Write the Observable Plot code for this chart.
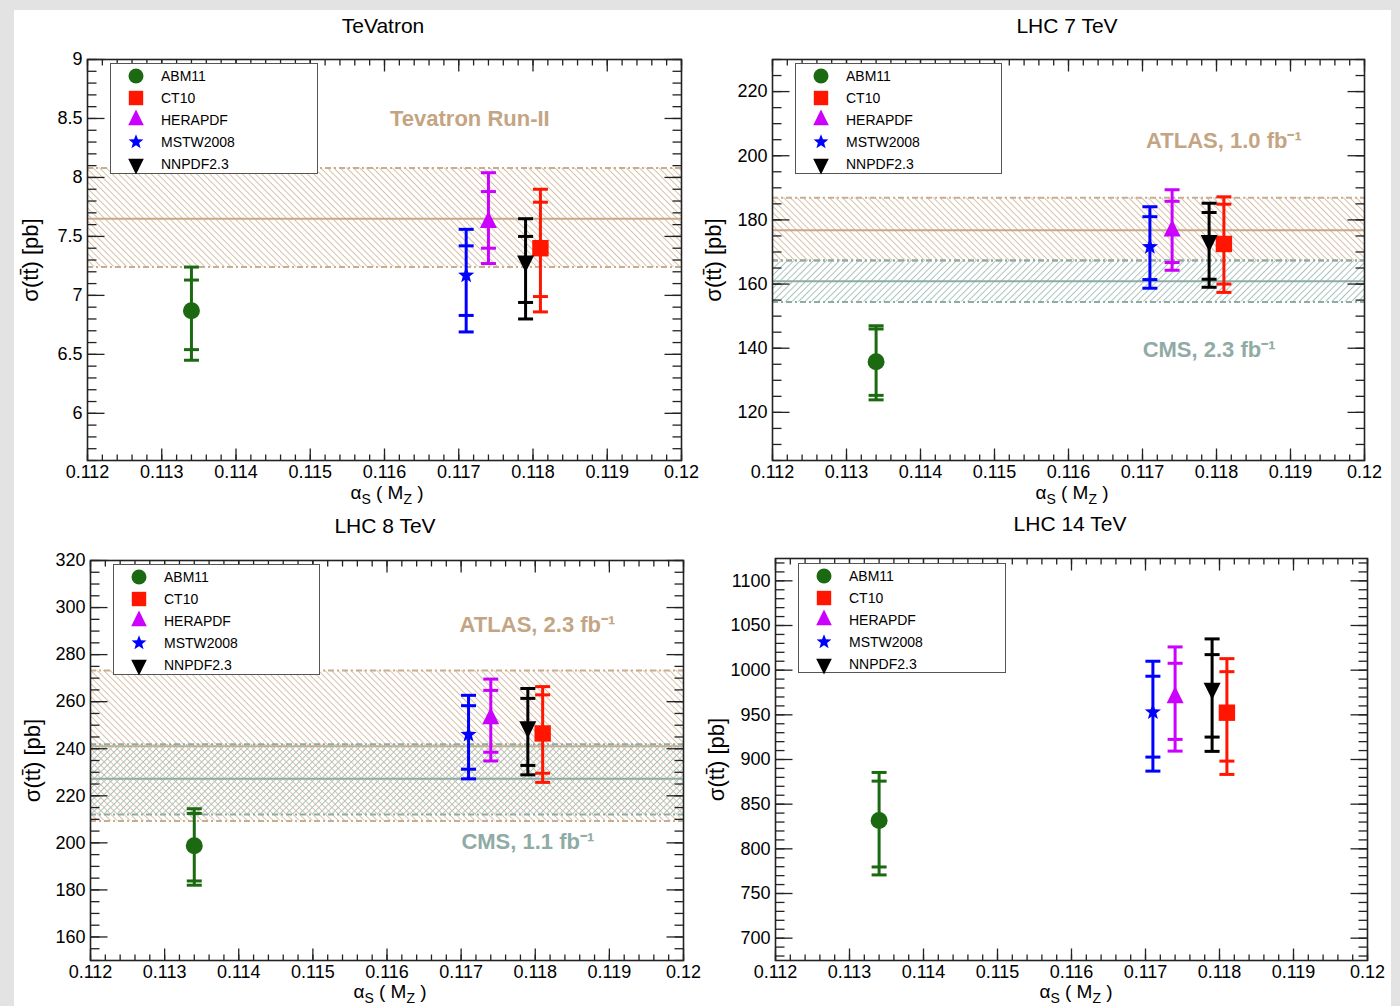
<!DOCTYPE html>
<html>
<head>
<meta charset="utf-8">
<script src="https://cdn.jsdelivr.net/npm/d3@7"></script>
<script src="https://cdn.jsdelivr.net/npm/@observablehq/plot@0.6"></script>
<style>
  html, body { margin: 0; padding: 0; background: #e3e3e3; }
  #page { position: relative; width: 1400px; height: 1006px; overflow: hidden;
          font-family: "Liberation Sans", Arial, Helvetica, sans-serif; color: #000; }
  #sheet { position: absolute; left: 14px; top: 10px; width: 1377px; height: 996px; background: #fff; }
  .slot { position: absolute; }
  .slot svg { display: block; }
  .title { position: absolute; font-size: 21px; white-space: nowrap; transform: translate(-50%, -50%); }
  .xlabel { position: absolute; font-size: 19px; white-space: nowrap; transform: translate(-50%, -50%); }
  .xlabel sub { font-size: 14px; vertical-align: -5px; }
  .legend { position: absolute; box-sizing: border-box; border: 1.5px solid #555; background: #fff; }
  .legend svg { position: absolute; overflow: visible; }
  .legend span { position: absolute; font-size: 14px; white-space: nowrap; transform: translateY(-50%); }
</style>
</head>
<body>
<div id="page"><div id="sheet"></div></div>
<script>
// ---- PDF sets (legend order) ----
const pdfNames  = ["ABM11", "CT10", "HERAPDF", "MSTW2008", "NNPDF2.3"];
const pdfColors = ["#1b6a12", "#ff1500", "#cc00ff", "#0000ff", "#000000"];
const pdfAlphaS = [0.1134, 0.1181, 0.1174, 0.1171, 0.1179];

// ---- axis tick values ----
const xTicks    = [0.112, 0.113, 0.114, 0.115, 0.116, 0.117, 0.118, 0.119, 0.12];
const tevYTicks   = [6, 6.5, 7, 7.5, 8, 8.5, 9];
const lhc7YTicks  = [120, 140, 160, 180, 200, 220];
const lhc8YTicks  = [160, 180, 200, 220, 240, 260, 280, 300, 320];
const lhc14YTicks = [700, 750, 800, 850, 900, 950, 1000, 1050, 1100];

// ---- Tevatron predictions (pb): central, inner band, outer band ----
const tevCentral = [6.87, 7.40, 7.62, 7.17, 7.29];
const tevInnerLo = [6.54, 6.99, 7.40, 6.83, 6.94];
const tevInnerHi = [7.13, 7.79, 7.88, 7.42, 7.50];
const tevOuterLo = [6.45, 6.86, 7.27, 6.69, 6.80];
const tevOuterHi = [7.24, 7.90, 8.04, 7.56, 7.65];

// ---- LHC 7 TeV ----
const lhc7Central = [135.8, 172.5, 176.6, 171.6, 173.5];
const lhc7InnerLo = [125.3, 160.0, 166.7, 161.4, 161.5];
const lhc7InnerHi = [146.0, 184.9, 185.8, 181.0, 182.3];
const lhc7OuterLo = [123.9, 157.4, 164.3, 158.7, 159.0];
const lhc7OuterHi = [147.0, 187.2, 189.4, 184.1, 185.2];

// ---- LHC 8 TeV ----
const lhc8Central = [198.8, 246.5, 252.8, 246.0, 249.3];
const lhc8InnerLo = [183.8, 229.6, 238.5, 231.3, 232.9];
const lhc8InnerHi = [212.5, 262.9, 264.8, 258.3, 261.4];
const lhc8OuterLo = [182.0, 225.7, 234.8, 227.2, 228.9];
const lhc8OuterHi = [214.5, 266.4, 269.6, 262.7, 265.6];

// ---- LHC 14 TeV ----
const lhc14Central = [831.7, 952.4, 969.2, 953.1, 979.7];
const lhc14InnerLo = [779.7, 898.2, 922.5, 902.7, 925.1];
const lhc14InnerHi = [875.8, 998.3, 1007.7, 993.2, 1017.4];
const lhc14OuterLo = [770.8, 883.3, 909.4, 887.0, 909.1];
const lhc14OuterHi = [885.5, 1012.9, 1026.0, 1010.0, 1035.0];

// ---- measurements: [low, central, high] ----
const tevRunII   = [7.24, 7.65, 8.08];
const atlas7     = [167.3, 176.8, 186.9];
const cms7       = [154.4, 160.9, 167.4];
const atlas8     = [209.3, 241.1, 273.3];
const cms8       = [212.1, 227.2, 241.9];

// ---- styles ----
const FONT = "Liberation Sans, Arial, Helvetica, sans-serif";
const bandStyles = {
  tan:  {line: "#c9a988", edge: "#c9ad90", hatch: "#d6bfa6", text: "#c4a583", angle: -45},
  teal: {line: "#8eaba5", edge: "#8eaba5", hatch: "#a9c1bb", text: "#90aba5", angle: 45}
};

// ---- symbols (size -> radius) ----
const sym = f => ({draw(ctx, size) { f(ctx, Math.sqrt(size / Math.PI)); }});
const symCircle = sym((c, r) => { c.moveTo(r, 0); c.arc(0, 0, r, 0, 2 * Math.PI); c.closePath(); });
const symSquare = sym((c, r) => { c.rect(-r, -r, 2 * r, 2 * r); });
const symTriUp  = sym((c, r) => { const h = 2 * r; c.moveTo(0, -2 * h / 3); c.lineTo(r, h / 3); c.lineTo(-r, h / 3); c.closePath(); });
const symTriDn  = sym((c, r) => { const h = 2 * r; c.moveTo(0, 2 * h / 3); c.lineTo(r, -h / 3); c.lineTo(-r, -h / 3); c.closePath(); });
const symStar   = sym((c, r) => {
  const ri = r * 0.42;
  for (let k = 0; k < 10; k++) {
    const rr = k % 2 ? ri : r, a = -Math.PI / 2 + k * Math.PI / 5;
    const px = rr * Math.cos(a), py = rr * Math.sin(a);
    k ? c.lineTo(px, py) : c.moveTo(px, py);
  }
  c.closePath();
});
const symCap   = sym((c, r) => { c.moveTo(-r, 0); c.lineTo(r, 0); });
const tickR    = sym((c, r) => { c.moveTo(0, 0); c.lineTo(r, 0); });
const tickL    = sym((c, r) => { c.moveTo(0, 0); c.lineTo(-r, 0); });
const tickU    = sym((c, r) => { c.moveTo(0, 0); c.lineTo(0, -r); });
const tickD    = sym((c, r) => { c.moveTo(0, 0); c.lineTo(0, r); });

const pdfSymbols = [symCircle, symSquare, symTriUp, symStar, symTriDn];
const pdfSizes   = [8.5, 8.2, 8.5, 8.5, 8.5];
const legendSizes = [7.5, 7.2, 7.8, 7.8, 7.8];

// ---- panels ----
const panels = [
  {title: "TeVatron", yDomain: [5.6, 9], yTicks: tevYTicks, yMinor: 0.1,
   series: [tevCentral, tevInnerLo, tevInnerHi, tevOuterLo, tevOuterHi],
   bands: [{name: "Tevatron Run-II", values: tevRunII, style: "tan", at: [0.11715, 8.5]}],
   box: {left: 0, top: 0, w: 700, h: 505, mt: 59, mr: 19, mb: 45, ml: 87, ylab: 57},
   titleAt: [383, 26], xlabAt: [387, 494], legend: [110, 63, 208, 111]},
  {title: "LHC 7 TeV", yDomain: [105, 230], yTicks: lhc7YTicks, yMinor: 5,
   series: [lhc7Central, lhc7InnerLo, lhc7InnerHi, lhc7OuterLo, lhc7OuterHi],
   bands: [{name: "ATLAS, 1.0 fb\u207B\u00B9", values: atlas7, style: "tan", at: [0.1181, 204.5]},
           {name: "CMS, 2.3 fb\u207B\u00B9", values: cms7, style: "teal", at: [0.1179, 139.4]}],
   box: {left: 700, top: 0, w: 700, h: 505, mt: 59, mr: 36, mb: 45, ml: 72, ylab: 59},
   titleAt: [1067, 26], xlabAt: [1072, 494], legend: [795, 63, 207, 111]},
  {title: "LHC 8 TeV", yDomain: [150, 320], yTicks: lhc8YTicks, yMinor: 5,
   series: [lhc8Central, lhc8InnerLo, lhc8InnerHi, lhc8OuterLo, lhc8OuterHi],
   bands: [{name: "ATLAS, 2.3 fb\u207B\u00B9", values: atlas8, style: "tan", at: [0.11803, 292.4]},
           {name: "CMS, 1.1 fb\u207B\u00B9", values: cms8, style: "teal", at: [0.1179, 200.4]}],
   box: {left: 0, top: 505, w: 700, h: 501, mt: 55, mr: 17, mb: 46, ml: 90, ylab: 58},
   titleAt: [385, 526], xlabAt: [390, 993], legend: [113, 564, 207, 111]},
  {title: "LHC 14 TeV", yDomain: [675, 1125], yTicks: lhc14YTicks, yMinor: 10,
   series: [lhc14Central, lhc14InnerLo, lhc14InnerHi, lhc14OuterLo, lhc14OuterHi],
   bands: [],
   box: {left: 700, top: 505, w: 700, h: 501, mt: 53, mr: 33, mb: 46, ml: 75, ylab: 59},
   titleAt: [1070, 524], xlabAt: [1076, 993], legend: [798, 563, 208, 110]}
];

const X0 = 0.112, X1 = 0.12;
const xMinor = d3.range(560, 601).map(k => +(k * 0.0002).toFixed(6));
const page = document.getElementById("page");

panels.forEach((p, pi) => {
  const [cen, il, ih, ol, oh] = p.series;
  const rows = pdfNames.map((name, i) => ({name, color: pdfColors[i], a: pdfAlphaS[i],
    c: cen[i], il: il[i], ih: ih[i], ol: ol[i], oh: oh[i], sym: pdfSymbols[i], size: pdfSizes[i]}));
  const [y0, y1] = p.yDomain;
  const yMinor = d3.range(Math.ceil(y0 / p.yMinor - 1e-9), Math.floor(y1 / p.yMinor + 1e-9) + 1)
    .map(k => +(k * p.yMinor).toFixed(6));
  const yMajor = p.yTicks;
  const xMajor = xTicks;

  const marks = [];
  // measurement bands
  p.bands.forEach((b, bi) => {
    const s = bandStyles[b.style];
    marks.push(
      Plot.rect([b], {x1: () => X0, x2: () => X1, y1: d => d.values[0], y2: d => d.values[2],
        fill: `url(#hatch-${pi}-${bi})`}),
      Plot.ruleY([b.values[0], b.values[2]], {stroke: s.edge, strokeWidth: 2, strokeDasharray: "6,3,2,3"}),
      Plot.ruleY([b.values[1]], {stroke: s.line, strokeWidth: 2})
    );
  });
  p.bands.forEach(b => {
    const s = bandStyles[b.style];
    marks.push(Plot.text([b.name], {x: () => b.at[0], y: () => b.at[1], text: d => d,
      fill: s.text, fontSize: 22, fontWeight: "bold", fontFamily: FONT}));
  });
  // frame ticks (inward, all four sides)
  marks.push(
    Plot.dot(yMinor, {x: () => X0, y: d => d, symbol: tickR, r: 9, stroke: "#222", strokeWidth: 1.3, fill: "none"}),
    Plot.dot(yMinor, {x: () => X1, y: d => d, symbol: tickL, r: 9, stroke: "#222", strokeWidth: 1.3, fill: "none"}),
    Plot.dot(yMajor, {x: () => X0, y: d => d, symbol: tickR, r: 17, stroke: "#222", strokeWidth: 1.3, fill: "none"}),
    Plot.dot(yMajor, {x: () => X1, y: d => d, symbol: tickL, r: 17, stroke: "#222", strokeWidth: 1.3, fill: "none"}),
    Plot.dot(xMinor, {x: d => d, y: () => y0, symbol: tickU, r: 6, stroke: "#222", strokeWidth: 1.3, fill: "none"}),
    Plot.dot(xMinor, {x: d => d, y: () => y1, symbol: tickD, r: 6, stroke: "#222", strokeWidth: 1.3, fill: "none"}),
    Plot.dot(xMajor, {x: d => d, y: () => y0, symbol: tickU, r: 12, stroke: "#222", strokeWidth: 1.3, fill: "none"}),
    Plot.dot(xMajor, {x: d => d, y: () => y1, symbol: tickD, r: 12, stroke: "#222", strokeWidth: 1.3, fill: "none"}),
    Plot.frame({stroke: "#222", strokeWidth: 1.6}),
    Plot.axisX({ticks: xTicks, tickSize: 0, tickPadding: 5, tickFormat: d => String(d), label: null, fontSize: 18}),
    Plot.axisY({ticks: p.yTicks, tickSize: 0, tickPadding: 5, tickFormat: d => String(d), label: null, fontSize: 18}),
    Plot.text(["\u03C3(tt\u0304) [pb]"], {frameAnchor: "left", dx: -p.box.ylab, rotate: -90, text: d => d,
      textAnchor: "middle", lineAnchor: "middle", fontSize: 22, fontFamily: FONT})
  );
  // prediction error bars and markers
  rows.forEach(r => {
    marks.push(
      Plot.ruleX([r], {x: "a", y1: "ol", y2: "oh", stroke: r.color, strokeWidth: 3}),
      Plot.dot([r.ol, r.il, r.ih, r.oh], {x: () => r.a, y: d => d, symbol: symCap, r: 7.5,
        stroke: r.color, strokeWidth: 3, fill: "none"}),
      Plot.dot([r], {x: "a", y: "c", symbol: r.sym, r: r.size, fill: r.color, stroke: "none"})
    );
  });

  const b = p.box;
  const svg = Plot.plot({
    width: b.w, height: b.h,
    marginTop: b.mt, marginRight: b.mr, marginBottom: b.mb, marginLeft: b.ml,
    x: {domain: [X0, X1], axis: null},
    y: {domain: p.yDomain, axis: null},
    style: {background: "transparent", fontFamily: FONT, fontSize: "18px", color: "#000", overflow: "visible"},
    marks
  });

  // hatch patterns for the bands
  const defs = d3.select(svg).insert("defs", ":first-child");
  p.bands.forEach((band, bi) => {
    const s = bandStyles[band.style];
    const pat = defs.append("pattern").attr("id", `hatch-${pi}-${bi}`)
      .attr("patternUnits", "userSpaceOnUse").attr("width", 4.6).attr("height", 4.6)
      .attr("patternTransform", `rotate(${s.angle})`);
    pat.append("line").attr("x1", 2.3).attr("y1", 0).attr("x2", 2.3).attr("y2", 4.6)
      .attr("stroke", s.hatch).attr("stroke-width", 1);
  });

  const slot = document.createElement("div");
  slot.className = "slot";
  slot.style.left = b.left + "px"; slot.style.top = b.top + "px";
  slot.style.width = b.w + "px"; slot.style.height = b.h + "px";
  slot.appendChild(svg);
  page.appendChild(slot);

  // title
  const t = document.createElement("div");
  t.className = "title"; t.textContent = p.title;
  t.style.left = p.titleAt[0] + "px"; t.style.top = p.titleAt[1] + "px";
  page.appendChild(t);

  // x-axis label
  const xl = document.createElement("div");
  xl.className = "xlabel";
  xl.innerHTML = "\u03B1<sub>S</sub> ( M<sub>Z</sub> )";
  xl.style.left = p.xlabAt[0] + "px"; xl.style.top = p.xlabAt[1] + "px";
  page.appendChild(xl);

  // legend
  const [lx, ly, lw, lh] = p.legend;
  const lg = d3.select(page).append("div").attr("class", "legend")
    .style("left", lx + "px").style("top", ly + "px").style("width", lw + "px").style("height", lh + "px");
  pdfNames.forEach((name, i) => {
    const cy = 11.5 + 22 * i;
    const s = lg.append("svg").attr("width", 1).attr("height", 1)
      .style("left", "25px").style("top", cy + "px");
    const path = d3.path();
    const rr = legendSizes[i];
    pdfSymbols[i].draw(path, Math.PI * rr * rr);
    s.append("path").attr("d", path.toString()).attr("fill", pdfColors[i]);
    lg.append("span").text(name).style("left", "50px").style("top", cy + "px");
  });
});
</script>
</body>
</html>
